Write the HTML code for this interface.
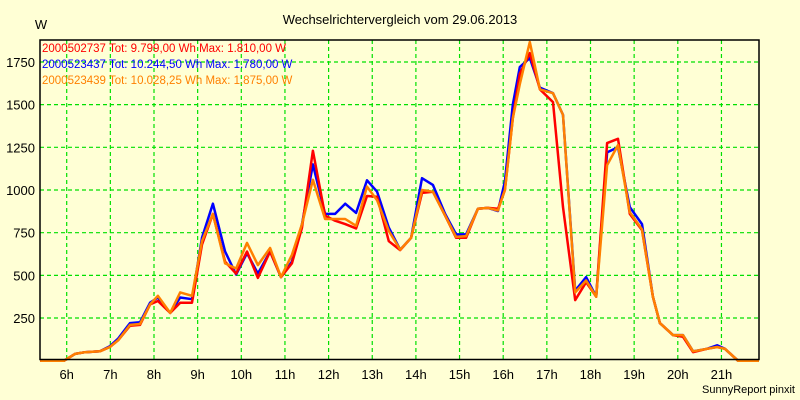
<!DOCTYPE html>
<html><head><meta charset="utf-8"><style>
html,body{margin:0;padding:0;background:#FFFFD5;}
svg{display:block;font-family:"Liberation Sans",Arial,sans-serif;}
</style></head><body>
<svg id="chart" width="800" height="400" xmlns="http://www.w3.org/2000/svg">
<rect x="0" y="0" width="800" height="400" fill="#FFFFD5"/>
<text x="400" y="24" text-anchor="middle" font-size="13" fill="#000">Wechselrichtervergleich vom 29.06.2013</text>
<text x="41" y="29" text-anchor="middle" font-size="13" fill="#000">W</text>
<text x="795" y="393" text-anchor="end" font-size="11" fill="#000">SunnyReport pinxit</text>
<g id="grid"></g>
<g id="series"></g>
<rect x="40" y="40" width="719" height="319.5" fill="none" stroke="#000" stroke-width="1.5"/>
<g id="labels"></g>
<g font-size="11.5">
<text x="42" y="52" fill="#FF0000">2000502737 Tot: 9.799,00 Wh Max: 1.810,00 W</text>
<text x="42" y="68" fill="#0000FF">2000523437 Tot: 10.244,50 Wh Max: 1.780,00 W</text>
<text x="42" y="84" fill="#FF8000">2000523439 Tot: 10.028,25 Wh Max: 1.875,00 W</text>
</g>
</svg>
<script>
const times=[5.39,5.94,6.19,6.42,6.76,6.99,7.18,7.45,7.68,7.91,8.09,8.37,8.60,8.87,9.10,9.35,9.63,9.88,10.13,10.38,10.66,10.91,11.16,11.39,11.64,11.92,12.15,12.38,12.63,12.88,13.11,13.38,13.64,13.89,14.14,14.39,14.67,14.92,15.15,15.42,15.65,15.88,16.04,16.22,16.38,16.61,16.84,17.14,17.37,17.65,17.90,18.13,18.38,18.63,18.90,19.18,19.43,19.59,19.89,20.12,20.35,20.67,20.90,21.08,21.38,21.86];
const redVals=[0,0,40,50,55,80,120,205,210,330,350,280,340,340,680,860,580,510,640,485,640,490,570,780,1230,850,820,800,775,965,960,700,648,720,983,990,850,720,720,890,895,890,1000,1420,1680,1802,1590,1515,900,355,460,375,1275,1300,860,765,375,220,150,140,50,70,80,70,0,0];
const blueVals=[0,0,40,50,55,85,130,220,225,340,370,280,370,360,720,920,640,505,630,510,640,490,580,800,1150,860,860,920,866,1057,990,780,650,720,1069,1030,860,740,740,890,895,877,1050,1500,1720,1773,1600,1567,1440,410,490,375,1220,1250,900,800,375,220,150,150,55,70,90,70,0,0];
const orangeVals=[0,0,40,50,55,80,120,210,215,330,380,280,400,380,700,860,570,540,690,560,660,490,620,800,1060,830,830,830,790,1020,940,760,650,720,1000,990,850,725,730,890,895,880,1000,1420,1620,1867,1590,1567,1440,400,470,375,1145,1263,870,770,375,220,150,150,55,70,80,70,0,0];
const yTicks=[250,500,750,1000,1250,1500,1750];
const xTickHours=[6,7,8,9,10,11,12,13,14,15,16,17,18,19,20,21];
const NS="http://www.w3.org/2000/svg";
function xs(h){return 66.7+(h-6)*43.65;}
function ys(v){return 360.7-v*0.1707;}
const grid=document.getElementById('grid'),labels=document.getElementById('labels'),ser=document.getElementById('series');
yTicks.forEach(v=>{
 const l=document.createElementNS(NS,'line');
 
 
 l.setAttribute('x1',40);l.setAttribute('x2',759);l.setAttribute('y1',ys(v));l.setAttribute('y2',ys(v));
 l.setAttribute('stroke','#00E000');l.setAttribute('stroke-dasharray','4,3');l.setAttribute('stroke-width','1.2');
 grid.appendChild(l);
 const t=document.createElementNS(NS,'text');
 
 
 t.setAttribute('x',35);t.setAttribute('y',ys(v)+5);t.setAttribute('text-anchor','end');t.setAttribute('font-size','13');
 t.textContent=v;labels.appendChild(t);
});
xTickHours.forEach(h=>{
 const l=document.createElementNS(NS,'line');
 
 
 l.setAttribute('x1',xs(h));l.setAttribute('x2',xs(h));l.setAttribute('y1',40);l.setAttribute('y2',359);
 l.setAttribute('stroke','#00E000');l.setAttribute('stroke-dasharray','4,3');l.setAttribute('stroke-width','1.2');
 grid.appendChild(l);
 const t=document.createElementNS(NS,'text');
 
 
 t.setAttribute('x',xs(h));t.setAttribute('y',379);t.setAttribute('text-anchor','middle');t.setAttribute('font-size','13');
 t.textContent=h+'h';labels.appendChild(t);
});
function drawSeries(vals,color,name){
 const p=document.createElementNS(NS,'polyline');
 
 
 p.setAttribute('points',vals.map((v,i)=>xs(times[i]).toFixed(1)+','+ys(v).toFixed(1)).join(' '));
 p.setAttribute('fill','none');p.setAttribute('stroke',color);p.setAttribute('stroke-width','2.5');p.setAttribute('stroke-linejoin','round');
 ser.appendChild(p);
}
drawSeries(blueVals,'#0000FF','series-2000523437');
drawSeries(redVals,'#FF0000','series-2000502737');
drawSeries(orangeVals,'#FF8000','series-2000523439');
</script>
</body></html>
